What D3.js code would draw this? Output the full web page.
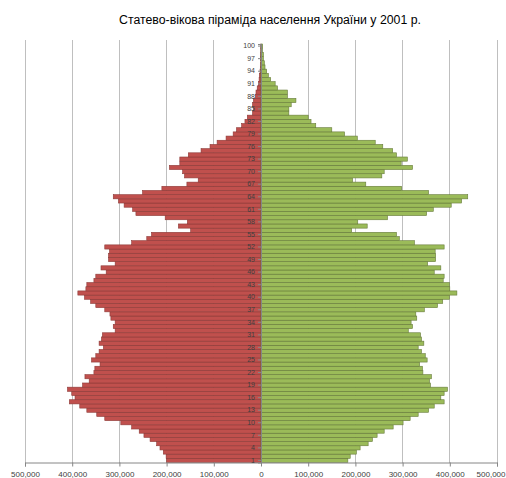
<!DOCTYPE html>
<html><head><meta charset="utf-8">
<script src="https://cdn.jsdelivr.net/npm/d3@7"></script>
<style>
html,body{margin:0;padding:0;background:#fff;}
svg{display:block;}
text{font-family:"Liberation Sans","DejaVu Sans",sans-serif;}
</style></head>
<body>
<script>
const title = "Статево-вікова піраміда населення України у 2001 р.";
const ages = d3.range(1, 101);
const male = [200,201,207,214,221,235,248,258,274,297,331,348,369,384,406,394,401,410,378,364,
373,354,352,341,359,350,343,334,343,338,336,309,313,309,318,320,331,350,361,374,
388,371,369,354,350,328,339,309,323,323,321,331,274,242,232,149,175,156,203,265,
272,290,302,313,251,210,157,133,162,166,194,172,172,154,127,108,93,74,59,52,
41,34,29,18,16,18,16,12,10.6,8,5.5,4,3.5,2,1.5,1,1,0.7,0.5,0.5].map(v=>v*1000);
const female = [184,189,202,210,227,236,246,261,280,301,316,333,355,367,388,381,388,395,359,357,
361,343,342,336,352,348,340,333,345,340,338,312,321,318,330,328,346,374,385,399,
415,400,399,386,388,367,381,353,370,370,369,388,325,293,287,192,225,205,268,351,
365,403,425,438,355,298,222,194,256,261,321,297,310,287,279,258,242,204,177,150,
116,106,100,59,59,64,74,56,56,35,30,20.5,15.5,12,8.5,7,5,5,3,3.5].map(v=>v*1000);
const xTicks = [-500000,-400000,-300000,-200000,-100000,0,100000,200000,300000,400000,500000];
const ageLabels = ages.filter(a => (a - 1) % 3 === 0);

const W = 506, H = 478;
const svg = d3.select("body").append("svg").attr("width", W).attr("height", H);

const x = d3.scaleLinear().domain([-500000, 500000]).range([25, 497]);
const y = d3.scaleBand().domain(ages.slice().reverse()).range([44, 462.5]).padding(0);

svg.append("text").attr("x", 270).attr("y", 24).attr("text-anchor", "middle")
  .attr("font-size", 12.3).attr("fill", "#000").text(title);

// gridlines
svg.append("g").selectAll("line").data(xTicks.filter(t => t !== 0)).join("line")
  .attr("x1", d => x(d)).attr("x2", d => x(d)).attr("y1", 40).attr("y2", 462.5)
  .attr("stroke", "#bfbfbf").attr("stroke-width", 1).attr("shape-rendering", "crispEdges");

// bars
svg.append("g").selectAll("rect").data(ages).join("rect")
  .attr("x", (d, i) => x(-male[i])).attr("width", (d, i) => x(0) - x(-male[i]))
  .attr("y", d => y(d)).attr("height", y.bandwidth())
  .attr("fill", "#c0504d").attr("stroke", "#8c3a38").attr("stroke-width", 0.6);
svg.append("g").selectAll("rect").data(ages).join("rect")
  .attr("x", x(0)).attr("width", (d, i) => x(female[i]) - x(0))
  .attr("y", d => y(d)).attr("height", y.bandwidth())
  .attr("fill", "#9bbb59").attr("stroke", "#667a3a").attr("stroke-width", 0.6);

// x axis
const xAxis = d3.axisBottom(x).tickValues(xTicks).tickSize(4)
  .tickFormat(d => d3.format(",")(Math.abs(d)));
const gx = svg.append("g").attr("transform", "translate(0,462.5)").call(xAxis);
gx.select(".domain").attr("stroke", "#868686");
gx.selectAll(".tick line").attr("stroke", "#868686");
gx.selectAll(".tick text").attr("font-size", 8).attr("fill", "#404040").attr("dy", "0.9em")
  .attr("font-family", "Liberation Sans, sans-serif");
// keep the last label inside the window
gx.selectAll(".tick text").filter(d => d === 500000)
  .attr("text-anchor", "end").attr("x", W - 1 - x(500000));

// category axis at zero
const yAxis = d3.axisLeft(y).tickValues(ageLabels).tickSize(3).tickPadding(3);
const gy = svg.append("g").attr("transform", `translate(${x(0)},0)`).call(yAxis);
gy.select(".domain").attr("stroke", "#868686");
gy.selectAll(".tick line").attr("stroke", "#868686");
gy.selectAll(".tick text").attr("font-size", 7).attr("fill", "#404040")
  .attr("font-family", "Liberation Sans, sans-serif");
</script>
</body></html>
